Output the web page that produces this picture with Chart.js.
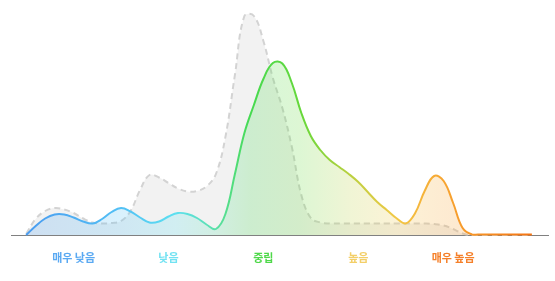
<!DOCTYPE html>
<html><head><meta charset="utf-8">
<script src="https://cdn.jsdelivr.net/npm/chart.js@4/dist/chart.umd.min.js"></script>
<style>html,body{margin:0;padding:0;background:#fff}#wrap{width:555px;height:281px}</style>
</head><body><div id="wrap"><canvas id="c"></canvas></div>
<script>
const categories = ['매우 낮음', '낮음', '중립', '높음', '매우 높음'];
const categoryColors = ['#5aa9f2', '#72e2f2', '#4fd84a', '#f3cf68', '#f5802a'];
const xValues = [-0.5, -0.4, -0.3, -0.2, -0.1, 0.0, 0.1, 0.2, 0.3, 0.4, 0.5, 0.6, 0.7, 0.8, 0.9,
  1.0, 1.1, 1.2, 1.3, 1.4, 1.5, 1.6, 1.7, 1.8, 1.9, 2.0, 2.1, 2.2, 2.3, 2.4, 2.5, 2.6, 2.7, 2.8, 2.9,
  3.0, 3.1, 3.2, 3.3, 3.4, 3.5, 3.6, 3.7, 3.8, 3.9, 4.0, 4.1, 4.2, 4.3, 4.4, 4.5, 4.6, 4.7, 4.83];
const groupDensity = [0, 0.09, 0.165, 0.205, 0.205, 0.175, 0.135, 0.115, 0.16, 0.23, 0.27, 0.235,
  0.175, 0.125, 0.135, 0.185, 0.22, 0.21, 0.17, 0.105, 0.06, 0.21, 0.61, 1.02, 1.30, 1.56, 1.72,
  1.715, 1.52, 1.22, 0.99, 0.85, 0.75, 0.68, 0.61, 0.53, 0.43, 0.33, 0.25, 0.17, 0.115, 0.22, 0.44,
  0.59, 0.54, 0.32, 0.07, 0.005, 0.005, 0.005, 0.005, 0.005, 0.005, 0.005];
const overallDensity = [0.01, 0.16, 0.24, 0.27, 0.255, 0.22, 0.165, 0.125, 0.115, 0.12, 0.14, 0.24,
  0.45, 0.60, 0.575, 0.52, 0.465, 0.435, 0.44, 0.485, 0.61, 0.98, 1.60, 2.19, 2.19, 1.94, 1.57,
  1.27, 0.88, 0.40, 0.17, 0.125, 0.115, 0.115, 0.115, 0.115, 0.115, 0.115, 0.115, 0.115, 0.115,
  0.115, 0.115, 0.11, 0.095, 0.06, 0.015, 0, 0, 0, 0, 0, 0, 0];

const lineStops = [
  [0, '#4a9cf0'], [0.187, '#52c0f5'], [0.296, '#5ce0f0'], [0.375, '#5ce0a8'],
  [0.444, '#46da50'], [0.544, '#66d83a'], [0.643, '#bcd040'], [0.732, '#f2c846'],
  [0.821, '#f7a632'], [1, '#f57412']
];

function makeGrad(chart, alpha) {
  const { ctx, chartArea, scales } = chart;
  if (!chartArea) return null;
  const x = scales.x;
  const g = ctx.createLinearGradient(x.getPixelForValue(xValues[0]), 0, x.getPixelForValue(xValues[xValues.length - 1]), 0);
  lineStops.forEach(([p, c]) => {
    const r = parseInt(c.slice(1, 3), 16), gg = parseInt(c.slice(3, 5), 16), b = parseInt(c.slice(5, 7), 16);
    g.addColorStop(p, `rgba(${r},${gg},${b},${alpha})`);
  });
  return g;
}

const groupPts = xValues.map((x, i) => ({ x, y: groupDensity[i] }));
const overallPts = xValues.map((x, i) => ({ x, y: overallDensity[i] }));

new Chart(document.getElementById('c'), {
  type: 'line',
  data: {
    datasets: [
      {
        data: groupPts,
        borderColor: c => makeGrad(c.chart, 1),
        backgroundColor: c => makeGrad(c.chart, 0.22),
        borderWidth: 2,
        fill: 'origin',
        tension: 0.4,
        pointRadius: 0,
        clip: false
      },
      {
        data: overallPts,
        borderColor: '#d3d3d3',
        backgroundColor: 'rgba(0,0,0,0.05)',
        borderWidth: 2,
        borderDash: [6, 4],
        fill: 'origin',
        tension: 0.4,
        pointRadius: 0,
        clip: false
      }
    ]
  },
  options: {
    animation: false,
    responsive: true,
    maintainAspectRatio: false,
    layout: { padding: { left: 11, right: 7, top: 0, bottom: 0 } },
    plugins: { legend: { display: false }, tooltip: { enabled: false } },
    scales: {
      x: {
        type: 'linear', min: -0.66, max: 5.0,
        grid: { display: false, drawTicks: false },
        border: { display: true, color: '#808080', width: 1 },
        afterBuildTicks: s => { s.ticks = categories.map((_, i) => ({ value: i })); },
        afterFit: s => { s.height = 46; },
        ticks: {
          padding: 16, autoSkip: false, maxRotation: 0,
          font: { family: "'Noto Sans CJK KR'", size: 11, weight: 'bold' },
          color: c => categoryColors[c.index],
          callback: v => categories[v]
        }
      },
      y: { display: false, min: 0, max: 2.35 }
    }
  }
});
</script>
</body></html>
